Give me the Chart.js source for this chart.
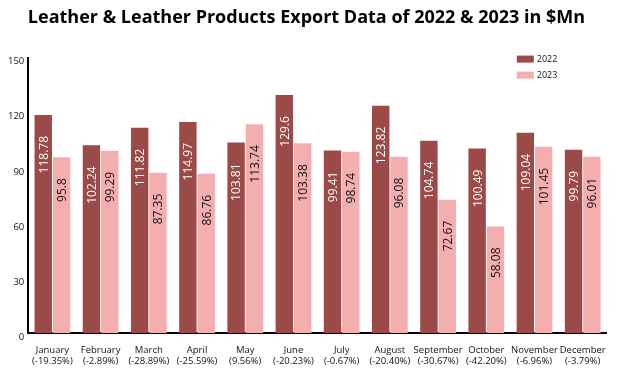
<!DOCTYPE html>
<html>
<head>
<meta charset="utf-8">
<script src="https://cdn.jsdelivr.net/npm/chart.js@4/dist/chart.umd.min.js"></script>
<style>
  html, body { margin: 0; padding: 0; background: #fff; }
  #wrap { width: 617px; height: 379px; position: relative; }
</style>
</head>
<body>
<div id="wrap"><canvas id="c"></canvas></div>
<script>
const months = ["January","February","March","April","May","June","July","August","September","October","November","December"];
const changes = ["(-19.35%)","(-2.89%)","(-28.89%)","(-25.59%)","(9.56%)","(-20.23%)","(-0.67%)","(-20.40%)","(-30.67%)","(-42.20%)","(-6.96%)","(-3.79%)"];
const exports2022 = [118.78, 102.24, 111.82, 114.97, 103.81, 129.6, 99.41, 123.82, 104.74, 100.49, 109.04, 99.79];
const exports2023 = [95.8, 99.29, 87.35, 86.76, 113.74, 103.38, 98.74, 96.08, 72.67, 58.08, 101.45, 96.01];
const yTicks = [0, 30, 60, 90, 120, 150];

const FONT = "'Open Sans', 'DejaVu Sans', sans-serif";

const valueLabels = {
  id: 'valueLabels',
  afterDatasetsDraw(chart) {
    const ctx = chart.ctx;
    chart.data.datasets.forEach((ds, di) => {
      const meta = chart.getDatasetMeta(di);
      meta.data.forEach((bar, i) => {
        const v = ds.data[i];
        ctx.save();
        ctx.translate(bar.x, bar.y + 21);
        ctx.rotate(-Math.PI / 2);
        ctx.font = "12px " + FONT;
        ctx.fillStyle = di === 0 ? '#ffffff' : '#111111';
        ctx.textAlign = 'right';
        ctx.textBaseline = 'middle';
        ctx.fillText(String(v), 0, 1);
        ctx.restore();
      });
    });
  }
};

const customLegend = {
  id: 'customLegend',
  afterDraw(chart) {
    const ctx = chart.ctx;
    const x0 = chart.chartArea.right - 90;
    let y0 = chart.chartArea.top - 2;
    chart.data.datasets.forEach((ds) => {
      ctx.save();
      ctx.fillStyle = ds.backgroundColor;
      ctx.fillRect(x0, y0, 17, 7);
      ctx.font = "9px " + FONT;
      ctx.fillStyle = '#111';
      ctx.textAlign = 'left';
      ctx.textBaseline = 'middle';
      ctx.fillText(ds.label, x0 + 20, y0 + 4);
      ctx.restore();
      y0 += 16;
    });
  }
};

new Chart(document.getElementById('c'), {
  type: 'bar',
  data: {
    labels: months.map((m, i) => [m, changes[i]]),
    datasets: [
      { label: '2022', data: exports2022, backgroundColor: '#9B4A48', categoryPercentage: 0.76, barPercentage: 0.95 },
      { label: '2023', data: exports2023, backgroundColor: '#F4AEAE', categoryPercentage: 0.76, barPercentage: 0.95 }
    ]
  },
  options: {
    responsive: true,
    maintainAspectRatio: false,
    animation: false,
    layout: { padding: { left: 4, right: 8, top: 0, bottom: 1 } },
    plugins: {
      legend: { display: false },
      tooltip: { enabled: false },
      title: {
        display: true,
        text: 'Leather & Leather Products Export Data of 2022 & 2023 in $Mn',
        color: '#000',
        font: { family: FONT, size: 18, weight: 'bold' },
        padding: { top: 7, bottom: 29 }
      }
    },
    scales: {
      x: {
        grid: { display: false, drawTicks: false },
        border: { display: true, color: '#000', width: 2 },
        ticks: {
          color: '#111',
          font: { family: FONT, size: 9.5 },
          padding: 11,
          maxRotation: 0,
          autoSkip: false
        }
      },
      y: {
        min: 0,
        max: 150,
        afterBuildTicks(axis) { axis.ticks = yTicks.map(v => ({ value: v })); },
        grid: { display: false, drawTicks: false },
        border: { display: true, color: '#000', width: 2 },
        ticks: {
          color: '#111',
          font: { family: FONT, size: 9.5 },
          padding: 4,
          labelOffset: 4
        }
      }
    }
  },
  plugins: [valueLabels, customLegend]
});
</script>
</body>
</html>
